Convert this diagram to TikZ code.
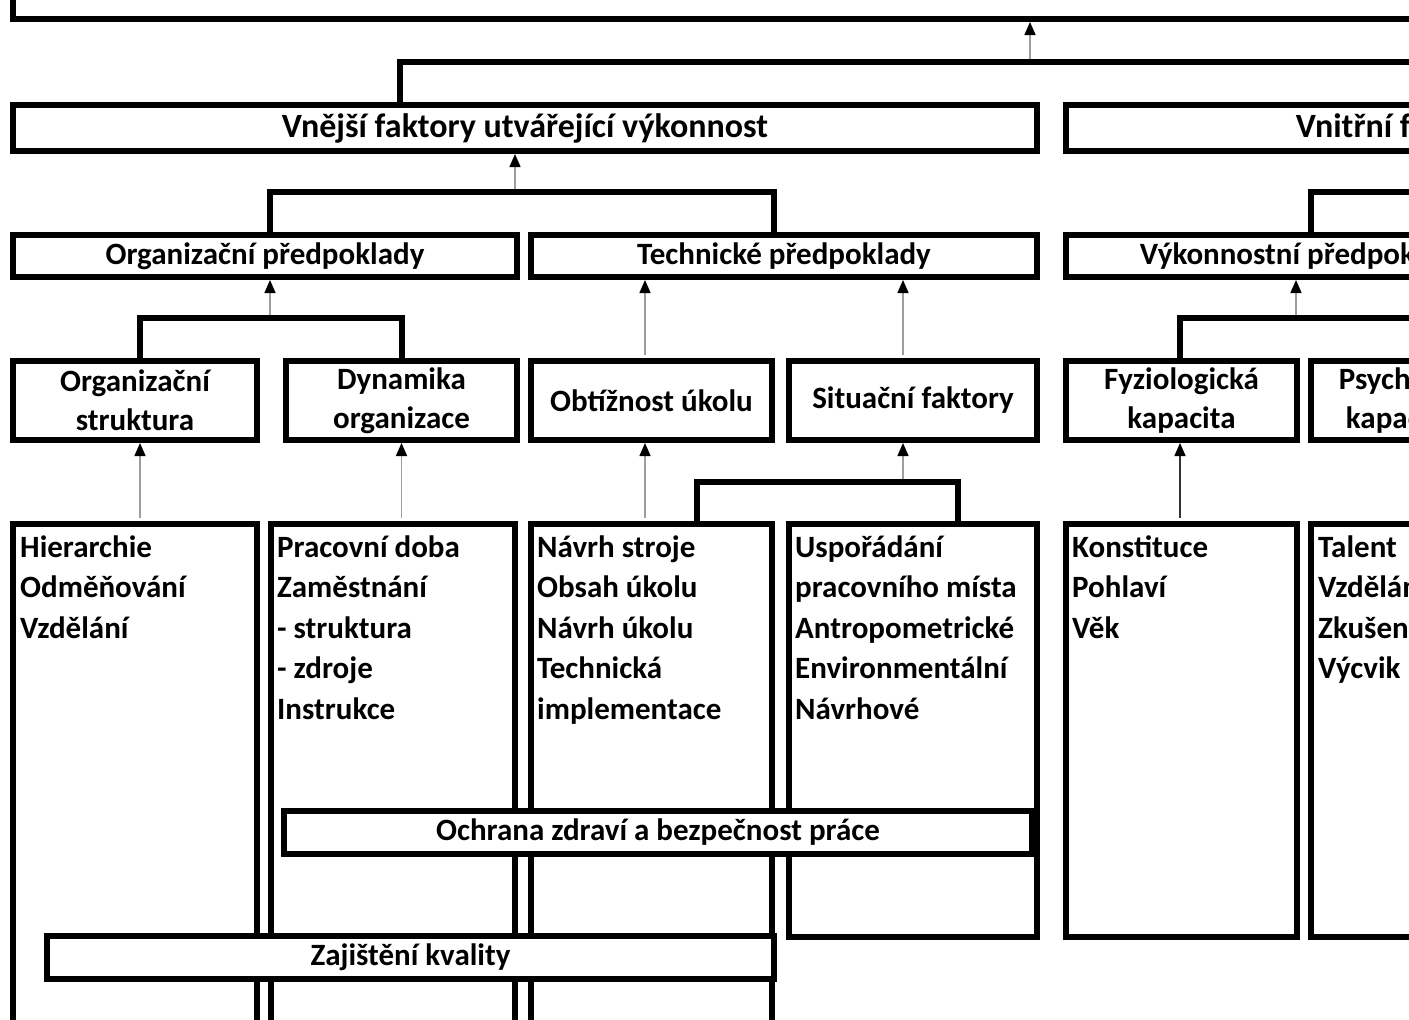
\documentclass[tikz,border=0pt]{standalone}
\usepackage{fontspec}
\setmainfont{Carlito}
\usetikzlibrary{arrows.meta}
\tikzset{
  box/.style={draw,line width=6pt,fill=white,inner sep=0pt,align=center,font=\fontsize{31}{39}\selectfont\bfseries},
  bigbox/.style={box,font=\fontsize{34}{40}\selectfont\bfseries},
  item/.style={inner sep=0pt,anchor=base west,font=\fontsize{31}{39}\selectfont\bfseries},
  brk/.style={line width=6pt},
  arr/.style={draw=black!38,line width=1.5pt,shorten <=3pt,-{Triangle[length=13pt,width=11pt,black]}},
}
\begin{document}
\begin{tikzpicture}[x=1pt,y=-1pt]
\useasboundingbox (0,0) rectangle (1409,1020);
\clip (0,0) rectangle (1409,1020);
% boxes
\node[box,minimum width=1444,minimum height=216] (vykon) at (735,-89) {};
\node[bigbox,minimum width=1024,minimum height=46] (vnej) at (525,128) {Vnější faktory utvářející výkonnost};
\node[bigbox,minimum width=957,minimum height=46] (vnit) at (1544.5,128) {Vnitřní faktory utvářející výkonnost};
\node[box,minimum width=504,minimum height=42] (orgp) at (265,256) {Organizační předpoklady};
\node[box,minimum width=506,minimum height=42] (techp) at (784,256) {Technické předpoklady};
\node[box,minimum width=477,minimum height=42] (vykp) at (1304.5,256) {Výkonnostní předpoklady};
\node[box,minimum width=244,minimum height=79] (orgs) at (135,400.5) {Organizační\\struktura};
\node[box,minimum width=231,minimum height=79] (dyn) at (401.5,400.5) {Dynamika\\organizace};
\node[box,minimum width=241,minimum height=79] (obt) at (651.5,400.5) {Obtížnost úkolu};
\node[box,minimum width=248,minimum height=79] (sit) at (913,400.5) {Situační faktory};
\node[box,minimum width=231,minimum height=79] (fyz) at (1181.5,400.5) {Fyziologická\\kapacita};
\node[box,minimum width=178,minimum height=79] (psy) at (1400,400.5) {Psychická\\kapacita};
\node[box,minimum width=244,minimum height=533] (lA) at (135,790.5) {};
\node[box,minimum width=244,minimum height=533] (lB) at (393,790.5) {};
\node[box,minimum width=241,minimum height=533] (lC) at (651.5,790.5) {};
\node[box,minimum width=248,minimum height=413] (lD) at (913,730.5) {};
\node[box,minimum width=231,minimum height=413] (lE) at (1181.5,730.5) {};
\node[box,minimum width=146,minimum height=413] (lF) at (1384,730.5) {};
\node[box,minimum width=748,minimum height=43] (ochr) at (658,832.5) {Ochrana zdraví a bezpečnost práce};
\node[box,minimum width=727,minimum height=43] (zaj) at (410.5,957.5) {Zajištění kvality};
% list items
\foreach \t [count=\i] in {Hierarchie,Odměňování,Vzdělání}
  \node[item] (a\i) at (20,557+40.5*\i-40.5) {\t};
\foreach \t [count=\i] in {Pracovní doba,Zaměstnání,- struktura,- zdroje,Instrukce}
  \node[item] (b\i) at (277,557+40.5*\i-40.5) {\t};
\foreach \t [count=\i] in {Návrh stroje,Obsah úkolu,Návrh úkolu,Technická,implementace}
  \node[item] (c\i) at (537,557+40.5*\i-40.5) {\t};
\foreach \t [count=\i] in {Uspořádání,pracovního místa,Antropometrické,Environmentální,Návrhové}
  \node[item] (d\i) at (795,557+40.5*\i-40.5) {\t};
\foreach \t [count=\i] in {Konstituce,Pohlaví,Věk}
  \node[item] (e\i) at (1072,557+40.5*\i-40.5) {\t};
\foreach \t [count=\i] in {Talent,Vzdělání,Zkušenosti,Výcvik}
  \node[item] (f\i) at (1318,557+40.5*\i-40.5) {\t};
% junctions
\coordinate (j0) at (1030,62);   \coordinate (j0e) at (1420,62);
\coordinate (j2) at (515,192);   \coordinate (j3) at (1420,192);
\coordinate (j4) at (270,318);
\coordinate (j5) at (1296,318);  \coordinate (j5e) at (1420,318);
\coordinate (j6) at (903,482);
% brackets
\draw[brk] ([xshift=-125]vnej.north) |- (j0e);
\draw[brk] ([xshift=5]orgp.north) |- (j2) -| ([xshift=-10]techp.north);
\draw[brk] ([xshift=6.5]vykp.north) |- (j3);
\draw[brk] ([xshift=5]orgs.north) |- (j4) -| (dyn.north);
\draw[brk] ([xshift=-1.5]fyz.north) |- (j5e);
\draw[brk] ([xshift=45.5]lC.north) |- (j6) -| ([xshift=45]lD.north);
% arrows
\draw[arr] (j0) -- (j0 |- vykon.south);
\draw[arr] (j2) -- (j2 |- vnej.south);
\draw[arr] (j4) -- (j4 |- orgp.south);
\draw[arr] (j5) -- (j5 |- vykp.south);
\draw[arr] (j6) -- (j6 |- sit.south);
\draw[arr] ([xshift=-6.5]obt.north) -- ([xshift=-6.5]obt.north |- techp.south);
\draw[arr] ([xshift=-10]sit.north) -- ([xshift=-10]sit.north |- techp.south);
\draw[arr] ([xshift=5]lA.north) -- ([xshift=5]orgs.south);
\draw[arr] (lB.north -| dyn.south) -- (dyn.south);
\draw[arr] ([xshift=-6.5]lC.north) -- ([xshift=-6.5]obt.south);
\draw[arr,draw=black!80] ([xshift=-1.5]lE.north) -- ([xshift=-1.5]fyz.south);
\end{tikzpicture}
\end{document}
